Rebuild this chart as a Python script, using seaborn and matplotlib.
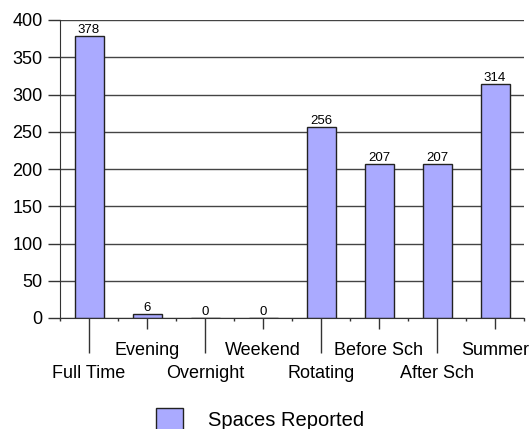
import matplotlib
matplotlib.use('Agg')
import matplotlib.pyplot as plt
import numpy as np
import seaborn as sns

categories = ['Full Time', 'Evening', 'Overnight', 'Weekend', 'Rotating', 'Before Sch', 'After Sch', 'Summer']
spaces = [378, 6, 0, 0, 256, 207, 207, 314]
series_name = 'Spaces Reported'

sns.set_style('white')
plt.rcParams['font.family'] = ['Liberation Sans', 'DejaVu Sans']
plt.rcParams['text.color'] = 'black'
plt.rcParams['xtick.color'] = '#333333'
plt.rcParams['ytick.color'] = '#333333'
plt.rcParams['xtick.labelcolor'] = 'black'
plt.rcParams['ytick.labelcolor'] = 'black'

fig = plt.figure(figsize=(5.31, 4.29), dpi=100)
ax = fig.add_axes([60/531, 111/429, 464/531, 298/429])

ax.set_axisbelow(True)
ax.yaxis.grid(True, color='#444444', linewidth=1)
sns.barplot(x=categories, y=spaces, color='#aaaaff', saturation=1, width=0.5,
            edgecolor='#222222', linewidth=1, ax=ax, label=series_name)

ax.set_ylim(0, 400)
ax.set_yticks(np.arange(0, 401, 50))
ax.set_xlim(-0.5, len(categories) - 0.5)
ax.set_xlabel('')
ax.set_ylabel('')

for c in ax.containers:
    ax.bar_label(c, fontsize=9.5, padding=0, color='black')

for s in ['top', 'right']:
    ax.spines[s].set_visible(False)
ax.spines['left'].set_color('#333333')
ax.spines['bottom'].set_color('#333333')

ax.tick_params(axis='y', left=True, length=8.6, width=1, labelsize=13, pad=4)
ax.tick_params(axis='x', bottom=True, length=7.9, width=1, labelsize=13)
ax.set_xticks(range(len(categories)))
ax.set_xticks(np.arange(-0.5, len(categories), 1), minor=True)
ax.tick_params(axis='x', which='minor', bottom=True, length=2.5, width=1)

# staggered category labels: long ticks for the lower row
for i, tick in enumerate(ax.xaxis.get_major_ticks()):
    if i % 2 == 0:
        tick.set_pad(25.9)
        tick.tick1line.set_markersize(25.2)
    else:
        tick.set_pad(9.4)
        tick.tick1line.set_markersize(7.9)

if ax.legend_:
    ax.legend_.remove()
handles, labels = ax.get_legend_handles_labels()
fig.legend(handles[:1], [series_name], loc='center', bbox_to_anchor=(0.490, 0.023),
           frameon=False, fontsize=14.5, handlelength=1.34, handleheight=1.34,
           handletextpad=1.24, borderpad=0)

fig.savefig('out.png', dpi=100)
